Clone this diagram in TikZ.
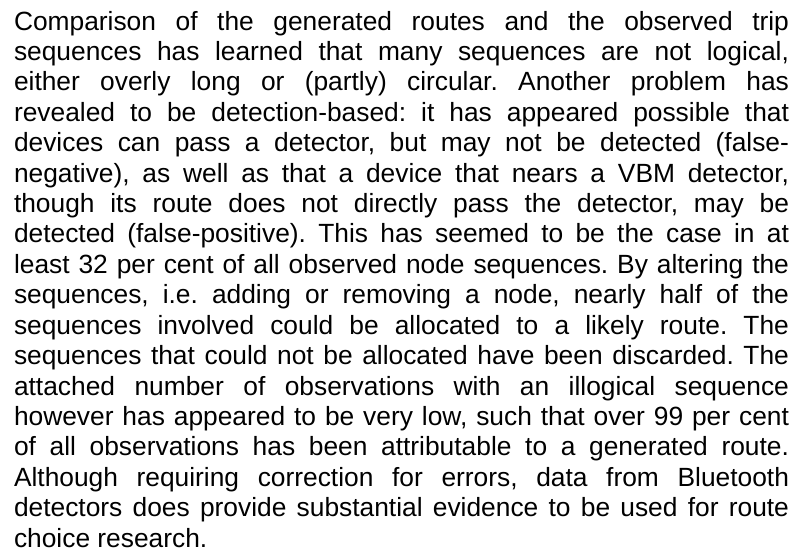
\documentclass[tikz,border=0pt]{standalone}
\usepackage{fontspec}
\setmainfont{Liberation Sans}
\frenchspacing
\begin{document}
\begin{tikzpicture}[x=1pt,y=1pt,
  textline/.style={anchor=base west,inner sep=0pt,outer sep=0pt,
    font=\fontsize{26.35pt}{30.4pt}\selectfont}]
\useasboundingbox (0,0) rectangle (805,-553);
\def\W{775pt}
\def\X{14}
\node[textline] (l1) at (\X,-30.2) {\makebox[\W][s]{Comparison of the generated routes and the observed trip}};
\node[textline] (l2) at (\X,-60.6) {\makebox[\W][s]{sequences has learned that many sequences are not logical,}};
\node[textline] (l3) at (\X,-91.0) {\makebox[\W][s]{either overly long or (partly) circular. Another problem has}};
\node[textline] (l4) at (\X,-121.4) {\makebox[\W][s]{revealed to be detection-based: it has appeared possible that}};
\node[textline] (l5) at (\X,-151.8) {\makebox[\W][s]{devices can pass a detector, but may not be detected (false-}};
\node[textline] (l6) at (\X,-182.2) {\makebox[\W][s]{negative), as well as that a device that nears a VBM detector,}};
\node[textline] (l7) at (\X,-212.6) {\makebox[\W][s]{though its route does not directly pass the detector, may be}};
\node[textline] (l8) at (\X,-243.0) {\makebox[\W][s]{detected (false-positive). This has seemed to be the case in at}};
\node[textline] (l9) at (\X,-273.4) {\makebox[\W][s]{least 32 per cent of all observed node sequences. By altering the}};
\node[textline] (l10) at (\X,-303.8) {\makebox[\W][s]{sequences, i.e. adding or removing a node, nearly half of the}};
\node[textline] (l11) at (\X,-334.2) {\makebox[\W][s]{sequences involved could be allocated to a likely route. The}};
\node[textline] (l12) at (\X,-364.6) {\makebox[\W][s]{sequences that could not be allocated have been discarded. The}};
\node[textline] (l13) at (\X,-395.0) {\makebox[\W][s]{attached number of observations with an illogical sequence}};
\node[textline] (l14) at (\X,-425.4) {\makebox[\W][s]{however has appeared to be very low, such that over 99 per cent}};
\node[textline] (l15) at (\X,-455.8) {\makebox[\W][s]{of all observations has been attributable to a generated route.}};
\node[textline] (l16) at (\X,-486.2) {\makebox[\W][s]{Although requiring correction for errors, data from Bluetooth}};
\node[textline] (l17) at (\X,-516.6) {\makebox[\W][s]{detectors does provide substantial evidence to be used for route}};
\node[textline] (l18) at (\X,-547.0) {choice research.};
\end{tikzpicture}
\end{document}
